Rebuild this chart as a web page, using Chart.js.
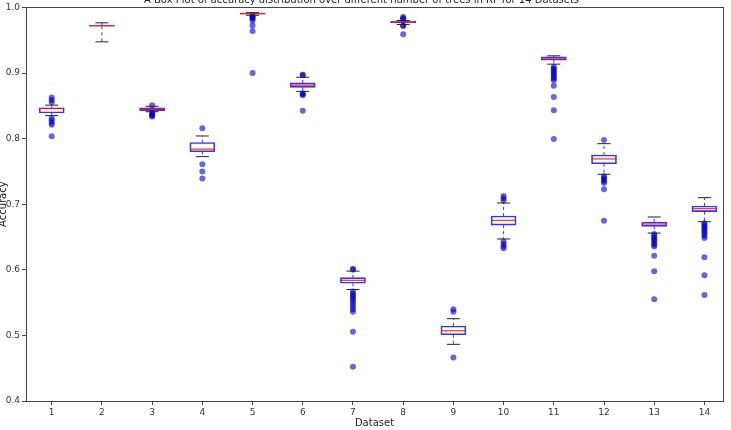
<!DOCTYPE html>
<html><head><meta charset="utf-8">
<script src="https://cdn.jsdelivr.net/npm/chart.js@4/dist/chart.umd.min.js"></script>
<style>html,body{margin:0;padding:0;background:#fff;overflow:hidden}#c{display:block}</style>
</head><body><canvas id="c" width="731" height="430"></canvas>
<script>
const titleText = 'A Box Plot of accuracy distribution over different number of trees in RF for 14 Datasets';
const datasetLabels = ['1','2','3','4','5','6','7','8','9','10','11','12','13','14'];
const yTicks = [0.4, 0.5, 0.6, 0.7, 0.8, 0.9, 1.0];
const q1          = [0.8390, 0.9712, 0.8425, 0.7800, 0.9895, 0.8780, 0.5795, 0.9765, 0.5010, 0.6680, 0.9195, 0.7617, 0.6662, 0.6886];
const medians     = [0.8458, 0.9720, 0.8447, 0.7840, 0.9905, 0.8815, 0.5840, 0.9775, 0.5070, 0.6755, 0.9215, 0.7690, 0.6698, 0.6931];
const q3          = [0.8470, 0.9728, 0.8468, 0.7940, 0.9915, 0.8850, 0.5880, 0.9790, 0.5143, 0.6820, 0.9245, 0.7750, 0.6729, 0.6973];
const whiskerLow  = [0.8350, 0.9475, 0.8410, 0.7725, 0.9880, 0.8720, 0.5700, 0.9740, 0.4864, 0.6470, 0.9135, 0.7456, 0.6560, 0.6733];
const whiskerHigh = [0.8510, 0.9765, 0.8492, 0.8040, 0.9920, 0.8935, 0.5980, 0.9800, 0.5255, 0.7018, 0.9262, 0.7923, 0.6805, 0.7100];
const outliers = [
  [0.8625, 0.8590, 0.8555, 0.8310, 0.8280, 0.8245, 0.8210, 0.8035],
  [],
  [0.8507, 0.8395, 0.8380, 0.8365, 0.8350, 0.8335],
  [0.8157, 0.7610, 0.7500, 0.7390],
  [0.9875, 0.9860, 0.9845, 0.9830, 0.9800, 0.9725, 0.9640, 0.9000],
  [0.8975, 0.8965, 0.8690, 0.8675, 0.8660, 0.8425],
  [0.6015, 0.6000, 0.5670, 0.5640, 0.5610, 0.5580, 0.5550, 0.5520, 0.5480, 0.5440, 0.5400, 0.5360, 0.5057, 0.4523],
  [0.9855, 0.9835, 0.9820, 0.9725, 0.9715, 0.9590],
  [0.5398, 0.5360, 0.4662],
  [0.7125, 0.7090, 0.7055, 0.6430, 0.6395, 0.6360, 0.6330],
  [0.9095, 0.9070, 0.9050, 0.9020, 0.8995, 0.8970, 0.8940, 0.8915, 0.8890, 0.8807, 0.8634, 0.8431, 0.7994],
  [0.7980, 0.7425, 0.7400, 0.7375, 0.7350, 0.7325, 0.7227, 0.6749],
  [0.6545, 0.6520, 0.6490, 0.6465, 0.6440, 0.6410, 0.6380, 0.6355, 0.6215, 0.5977, 0.5550],
  [0.6710, 0.6685, 0.6660, 0.6635, 0.6610, 0.6580, 0.6550, 0.6520, 0.6485, 0.6190, 0.5916, 0.5616]
];

const xs = datasetLabels.map((l, i) => i + 1);
const boxData = xs.map((x, i) => ({x, y: [q1[i], q3[i]]}));
const medData = xs.map((x, i) => ({x, y: medians[i]}));
const capData = [];
xs.forEach((x, i) => { capData.push({x, y: whiskerLow[i]}); capData.push({x, y: whiskerHigh[i]}); });
const whiskerData = [];
xs.forEach((x, i) => {
  whiskerData.push({x, y: q3[i]}, {x, y: whiskerHigh[i]}, {x, y: null});
  whiskerData.push({x, y: q1[i]}, {x, y: whiskerLow[i]}, {x, y: null});
});
const flierData = [];
xs.forEach((x, i) => outliers[i].forEach(v => flierData.push({x, y: v})));

const FONT = 'DejaVu Sans';
const AX = '#444';

new Chart(document.getElementById('c'), {
  type: 'bar',
  data: {
    datasets: [
      {type: 'line', label: 'median', data: medData, showLine: false, pointStyle: 'line', pointRadius: 12.5,
       pointBorderColor: '#ff0000', pointBorderWidth: 1, pointBackgroundColor: '#ff0000'},
      {type: 'line', label: 'caps', data: capData, showLine: false, pointStyle: 'line', pointRadius: 6.5,
       pointBorderColor: '#222', pointBorderWidth: 1},
      {type: 'line', label: 'fliers', data: flierData, showLine: false, pointStyle: 'circle', pointRadius: 3,
       pointBackgroundColor: 'rgba(0,0,200,0.6)', pointBorderWidth: 0},
      {type: 'bar', label: 'box', data: boxData, backgroundColor: 'rgba(255,255,255,0)', borderColor: 'rgba(0,0,255,0.8)',
       borderWidth: 1, borderSkipped: false, barThickness: 25},
      {type: 'line', label: 'whiskers', data: whiskerData, spanGaps: false, borderColor: 'rgba(0,0,255,0.8)',
       borderWidth: 1, borderDash: [3, 3], pointRadius: 0, fill: false}
    ]
  },
  options: {
    responsive: false,
    animation: false,
    events: [],
    layout: {autoPadding: false, padding: {left: 0, right: 8, top: 0, bottom: 0}},
    plugins: {
      legend: {display: false},
      tooltip: {enabled: false},
      title: {display: true, text: titleText, color: '#222',
              font: {family: FONT, size: 10, weight: 'normal', lineHeight: '1px'},
              padding: {top: 0, bottom: 6}}
    },
    scales: {
      x: {type: 'linear', position: 'bottom', min: 0.488, max: 14.37, offset: false,
          afterBuildTicks: s => { s.ticks = xs.map(v => ({value: v})); },
          ticks: {callback: (v) => datasetLabels[v - 1], color: '#333', font: {family: FONT, size: 9}, padding: 2, maxRotation: 0, autoSkip: false},
          grid: {offset: false, drawOnChartArea: false, drawTicks: true, tickLength: 4, color: AX},
          border: {color: AX, width: 1},
          title: {display: true, text: 'Dataset', color: '#222', font: {family: FONT, size: 10}, padding: {top: 0, bottom: 1}},
          afterFit: s => { s.height = 29; }},
      x2: {type: 'linear', position: 'top', axis: 'x', min: 0.488, max: 14.37, offset: false,
          ticks: {display: false}, grid: {display: false}, border: {color: AX, width: 1},
          afterFit: s => { s.height = 0; }},
      y: {type: 'linear', position: 'left', min: 0.4, max: 1.0,
          afterBuildTicks: s => { s.ticks = yTicks.map(v => ({value: v})); },
          ticks: {callback: v => v.toFixed(1), color: '#333', font: {family: FONT, size: 9}, padding: 2},
          grid: {drawOnChartArea: false, drawTicks: true, tickLength: 4, color: AX},
          border: {color: AX, width: 1},
          title: {display: true, text: 'Accuracy', color: '#222', font: {family: FONT, size: 10, lineHeight: '1px'}, padding: {top: 3, bottom: 0}},
          afterFit: s => { s.width = 26; }},
      y2: {type: 'linear', position: 'right', axis: 'y', min: 0.4, max: 1.0,
          ticks: {display: false}, grid: {display: false}, border: {color: AX, width: 1},
          afterFit: s => { s.width = 0; }}
    }
  }
});
</script></body></html>
